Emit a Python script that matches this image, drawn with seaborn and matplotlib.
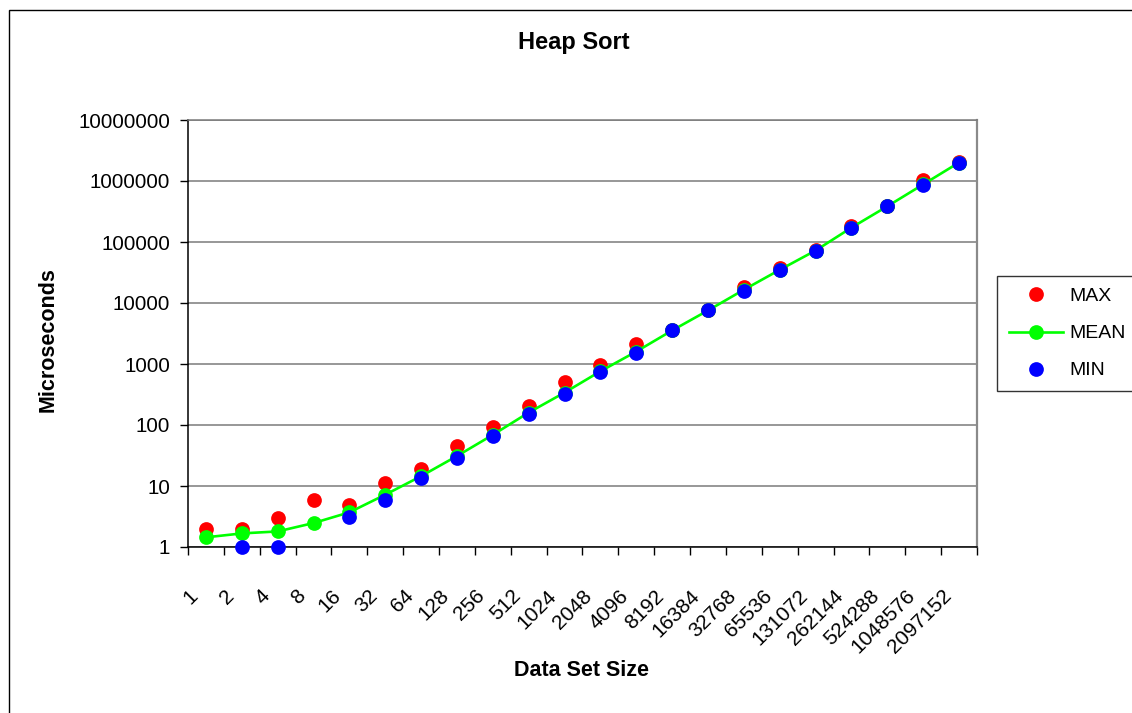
import numpy as np
import pandas as pd
import matplotlib
matplotlib.use("Agg")
import matplotlib.pyplot as plt
import matplotlib.transforms as mtransforms
from matplotlib.ticker import FixedLocator, FuncFormatter, NullLocator
from matplotlib.patches import Rectangle
from matplotlib.lines import Line2D
import seaborn as sns

# ---- data ----
sizes = [1, 2, 4, 8, 16, 32, 64, 128, 256, 512, 1024, 2048, 4096, 8192, 16384,
         32768, 65536, 131072, 262144, 524288, 1048576, 2097152]
max_us = [2, 2, 3, 6, 4.8, 11.3, 18.8, 45, 92, 203, 510, 980, 2150, 3600, 7600,
          18000, 37500, 74000, 185000, 390000, 1050000, 2050000]
mean_us = [1.44, 1.67, 1.8, 2.47, 3.7, 7.2, 14.5, 31, 69, 160, 340, 760, 1600, 3550, 7550,
           16500, 35000, 72500, 172000, 385000, 880000, 2010000]
min_us = [np.nan, 1, 1, np.nan, 3.06, 6.0, 13.7, 29, 66, 154, 327, 740, 1500, 3560, 7570,
          15800, 34200, 72000, 167000, 384000, 850000, 2000000]
y_ticks = [1, 10, 100, 1000, 10000, 100000, 1000000, 10000000]

title = "Heap Sort"
x_title = "Data Set Size"
y_title = "Microseconds"

df = pd.DataFrame({"pos": np.arange(len(sizes)), "MAX": max_us, "MEAN": mean_us, "MIN": min_us})

W, H = 1132, 713
plt.rcParams["font.family"] = ["Liberation Sans", "DejaVu Sans"]

fig = plt.figure(figsize=(W / 100, H / 100), dpi=100)
fig.patch.set_facecolor("white")

# outer chart border
fig.patches.append(Rectangle((8.5 / W, -0.1), 1.2, 1 - 9.5 / H + 0.1, transform=fig.transFigure,
                             fill=False, edgecolor="black", linewidth=1.0))

ax = fig.add_axes([188 / W, 1 - 547 / H, 789 / W, 427 / H])
ax.set_facecolor("white")
ax.set_yscale("log")

MS = 10.6
sns.scatterplot(data=df, x="pos", y="MAX", ax=ax, color="#FF0000", s=MS ** 2, linewidth=0,
                clip_on=False, zorder=3, label="MAX")
sns.lineplot(data=df, x="pos", y="MEAN", ax=ax, color="#00FF00", linewidth=1.9,
             marker="o", markersize=MS, markeredgewidth=0, clip_on=False, zorder=4,
             label="MEAN")
sns.scatterplot(data=df, x="pos", y="MIN", ax=ax, color="#0000FF", s=MS ** 2, linewidth=0,
                clip_on=False, zorder=5, label="MIN")

ax.set_xlim(-0.5, len(sizes) - 0.5)
ax.set_ylim(y_ticks[0], y_ticks[-1])

# y axis
ax.yaxis.set_major_locator(FixedLocator(y_ticks))
ax.yaxis.set_minor_locator(NullLocator())
ax.yaxis.set_major_formatter(FuncFormatter(lambda v, p: f"{int(round(v))}"))
ax.tick_params(axis="y", which="major", length=6, width=1, color="black", pad=7,
               labelsize=14.8, labelcolor="black", direction="out")
ax.yaxis.grid(True, which="major", color="#7a7a7a", linewidth=1.1)
ax.set_axisbelow(True)

# x axis: labels at category centers, tick marks at boundaries
ax.xaxis.set_major_locator(FixedLocator(list(df["pos"])))
ax.set_xticklabels([str(s) for s in sizes])
ax.xaxis.set_minor_locator(FixedLocator(list(np.arange(len(sizes) + 1) - 0.5)))
ax.tick_params(axis="x", which="major", length=0, pad=33, labelsize=15, labelcolor="black")
ax.tick_params(axis="x", which="minor", length=6, width=1, color="black", direction="out")
shift = mtransforms.ScaledTranslation(-11 / 100, 0, fig.dpi_scale_trans)
for lab in ax.get_xticklabels():
    lab.set_rotation(45)
    lab.set_ha("right")
    lab.set_va("center")
    lab.set_rotation_mode("anchor")
    lab.set_transform(lab.get_transform() + shift)

ax.set_xlabel("")
ax.set_ylabel("")

for side in ["left", "bottom"]:
    ax.spines[side].set_color("black")
    ax.spines[side].set_linewidth(1.1)
ax.spines["right"].set_color("#8a8a8a")
ax.spines["right"].set_linewidth(1.6)
ax.spines["top"].set_color("#7a7a7a")
ax.spines["top"].set_linewidth(1.1)

# titles
fig.text(574 / W, 1 - 43 / H, title, ha="center", va="center", fontsize=17, fontweight="bold")
fig.text(582 / W, 1 - 670 / H, x_title, ha="center", va="center", fontsize=15.5, fontweight="bold")
fig.text(48 / W, 1 - 340 / H, y_title, ha="center", va="center", rotation=90,
         fontsize=15.5, fontweight="bold")

# legend
ax.get_legend().remove()
handles = [
    Line2D([], [], linestyle="none", marker="o", markersize=MS, markerfacecolor="#FF0000",
           markeredgewidth=0),
    Line2D([], [], color="#00FF00", linewidth=1.9, marker="o", markersize=MS,
           markerfacecolor="#00FF00", markeredgewidth=0),
    Line2D([], [], linestyle="none", marker="o", markersize=MS, markerfacecolor="#0000FF",
           markeredgewidth=0),
]
leg = fig.legend(handles, ["MAX", "MEAN", "MIN"], loc="upper left",
                 bbox_to_anchor=(997 / W, 1 - 276 / H), fontsize=14, frameon=True,
                 fancybox=False, shadow=False, handlelength=2.8, handletextpad=0.3,
                 labelspacing=1.0, borderpad=0.6, borderaxespad=0)
leg.get_frame().set_edgecolor("black")
leg.get_frame().set_linewidth(1.0)

fig.savefig("out.png", dpi=100, facecolor="white")
